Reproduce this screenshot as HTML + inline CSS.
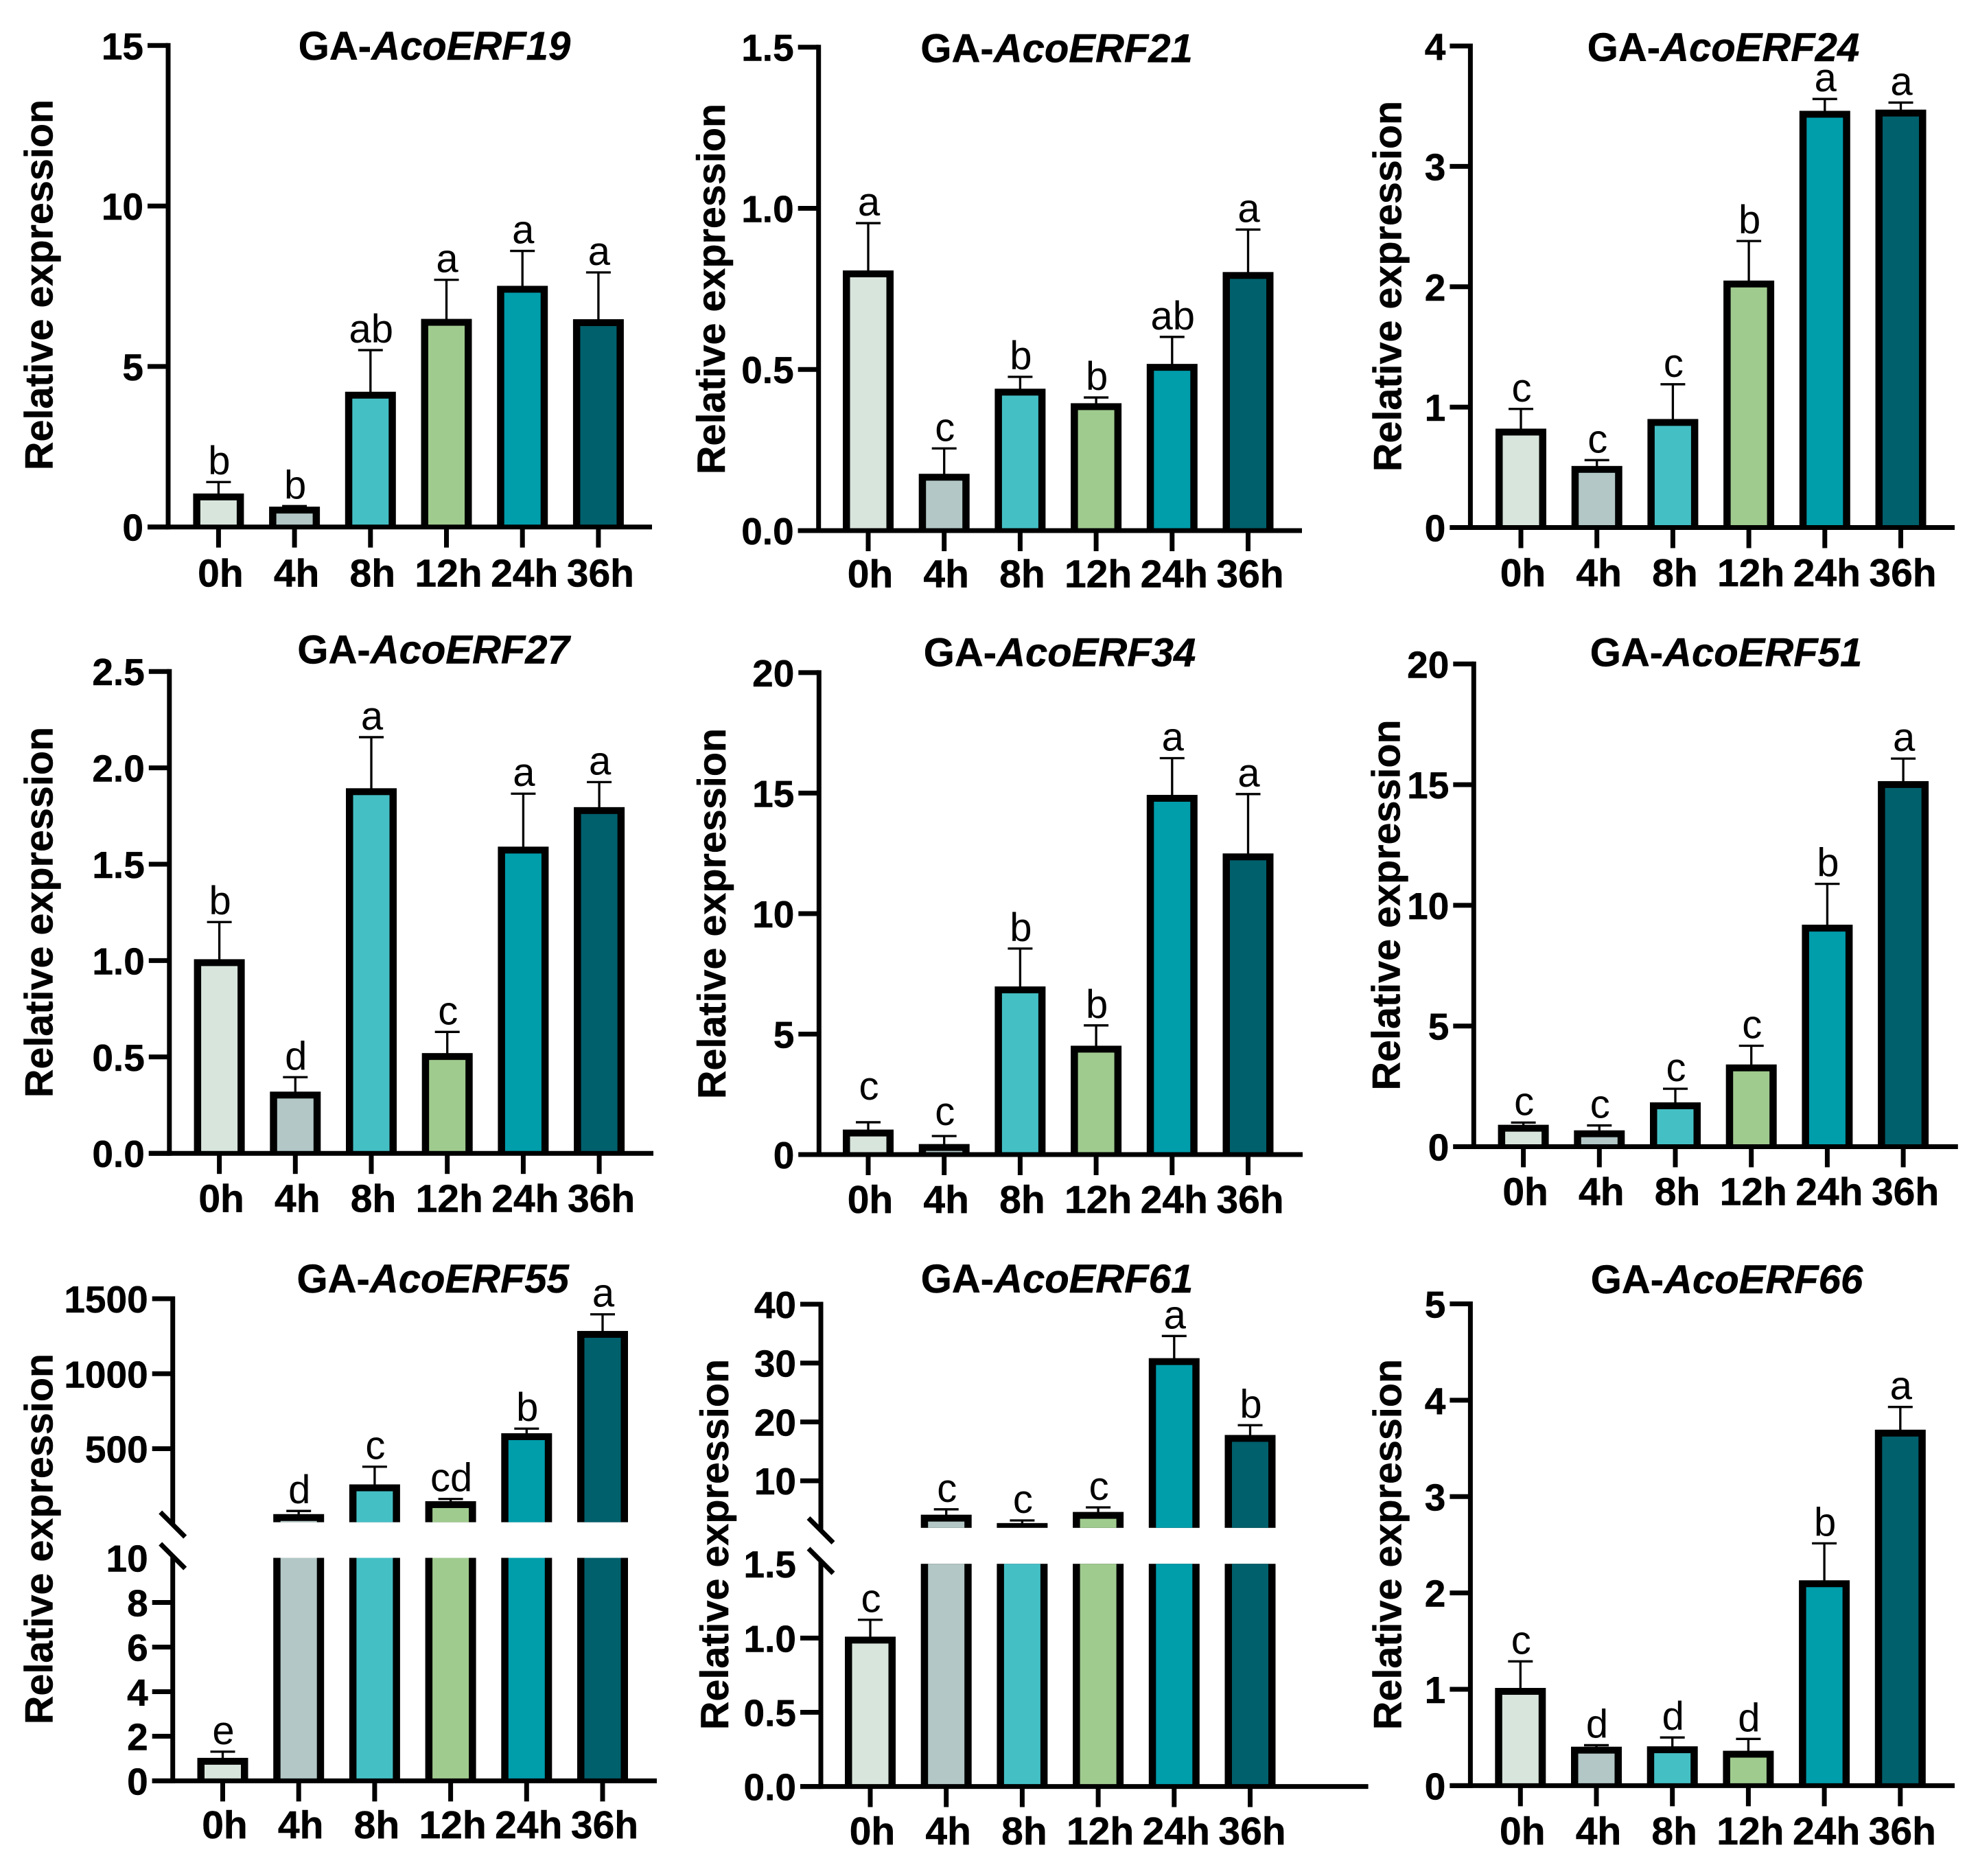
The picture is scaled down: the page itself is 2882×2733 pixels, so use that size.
<!DOCTYPE html>
<html lang="en">
<head>
<meta charset="utf-8">
<title>GA-induced relative expression of AcoERF genes</title>
<style>
html,body{margin:0;padding:0;background:#fff;}
svg{display:block;}
text{font-family:"Liberation Sans",Arial,sans-serif;fill:#000;}
.tick{font-size:55px;font-weight:700;stroke:#000;stroke-width:.5px;}
.cat{font-size:57px;font-weight:700;stroke:#000;stroke-width:.5px;}
.ttl{font-size:58px;font-weight:700;stroke:#000;stroke-width:.5px;}
.ylab{font-size:57.5px;font-weight:700;stroke:#000;stroke-width:.5px;}
.sig{font-size:58px;font-weight:400;}
</style>
</head>
<body>
<svg id="figure" xmlns="http://www.w3.org/2000/svg" width="2882" height="2733" viewBox="0 0 2882 2733"></svg>
<script>
// ---------- data ----------
const categories = ['0h', '4h', '8h', '12h', '24h', '36h'];

const erf19Means = [1.0, 0.59, 4.17, 6.44, 7.47, 6.43];
const erf19Errors = [0.40, 0.06, 1.34, 1.26, 1.13, 1.50];
const erf19Letters = ['b', 'b', 'ab', 'a', 'a', 'a'];
const erf19Ticks = ['0', '5', '10', '15'];

const erf21Means = [0.803, 0.172, 0.436, 0.391, 0.513, 0.798];
const erf21Errors = [0.151, 0.083, 0.041, 0.022, 0.088, 0.136];
const erf21Letters = ['a', 'c', 'b', 'b', 'ab', 'a'];
const erf21Ticks = ['0.0', '0.5', '1.0', '1.5'];

const erf24Means = [0.81, 0.50, 0.89, 2.04, 3.45, 3.46];
const erf24Errors = [0.175, 0.06, 0.30, 0.34, 0.11, 0.07];
const erf24Letters = ['c', 'c', 'c', 'b', 'a', 'a'];
const erf24Ticks = ['0', '1', '2', '3', '4'];

const erf27Means = [1.0, 0.313, 1.887, 0.513, 1.584, 1.789];
const erf27Errors = [0.20, 0.082, 0.272, 0.117, 0.282, 0.137];
const erf27Letters = ['b', 'd', 'a', 'c', 'a', 'a'];
const erf27Ticks = ['0.0', '0.5', '1.0', '1.5', '2.0', '2.5'];

const erf34Means = [0.98, 0.38, 6.92, 4.46, 14.87, 12.44];
const erf34Errors = [0.36, 0.39, 1.63, 0.90, 1.58, 2.52];
const erf34Letters = ['c', 'c', 'b', 'b', 'a', 'a'];
const erf34Ticks = ['0', '5', '10', '15', '20'];

const erf51Means = [0.85, 0.62, 1.78, 3.35, 9.14, 15.09];
const erf51Errors = [0.15, 0.26, 0.62, 0.83, 1.75, 0.99];
const erf51Letters = ['c', 'c', 'c', 'c', 'b', 'a'];
const erf51Ticks = ['0', '5', '10', '15', '20'];

const erf55Means = [0.97, 55, 253, 141, 594, 1276];
const erf55Errors = [0.34, 30, 127, 24, 40, 120];
const erf55Letters = ['e', 'd', 'c', 'cd', 'b', 'a'];
const erf55LowerTicks = ['0', '2', '4', '6', '8', '10'];
const erf55UpperTicks = ['500', '1000', '1500'];

const erf61Means = [1.0, 4.0, 2.58, 4.47, 30.6, 17.55];
const erf61Errors = [0.123, 1.15, 0.68, 1.01, 4.0, 1.89];
const erf61Letters = ['c', 'c', 'c', 'c', 'a', 'b'];
const erf61LowerTicks = ['0.0', '0.5', '1.0', '1.5'];
const erf61UpperTicks = ['10', '20', '30', '40'];

const erf66Means = [1.0, 0.39, 0.394, 0.348, 2.117, 3.68];
const erf66Errors = [0.29, 0.03, 0.106, 0.137, 0.398, 0.25];
const erf66Letters = ['c', 'd', 'd', 'd', 'b', 'a'];
const erf66Ticks = ['0', '1', '2', '3', '4', '5'];

// ---------- styling ----------
const barColors = ['#d8e5dc', '#b2c7c6', '#44c0c5', '#a0cb8f', '#009dab', '#00606c'];

// ---------- panel layout ----------
const panels = [
  {gene:'AcoERF19', means:erf19Means, errors:erf19Errors, letters:erf19Letters, ticks:erf19Ticks, axisX:245, y0:766.7, yTop:65.3, x0:318.4, xEnd:950, titleX:633, titleY:86, yLabX:76.5, yLabY:414, catY:853.3},
  {gene:'AcoERF21', means:erf21Means, errors:erf21Errors, letters:erf21Letters, ticks:erf21Ticks, axisX:1192.7, y0:772, yTop:67.7, x0:1265, xEnd:1897, titleX:1539.6, titleY:89.7, yLabX:1056, yLabY:420, catY:854.5},
  {gene:'AcoERF24', means:erf24Means, errors:erf24Errors, letters:erf24Letters, ticks:erf24Ticks, axisX:2142.4, y0:767.5, yTop:66, x0:2216, xEnd:2848, titleX:2511, titleY:88, yLabX:2041.4, yLabY:416, catY:853},
  {gene:'AcoERF27', means:erf27Means, errors:erf27Errors, letters:erf27Letters, ticks:erf27Ticks, axisX:246.8, y0:1679.2, yTop:977.2, x0:319.6, xEnd:952, titleX:631.6, titleY:965.3, yLabX:76.5, yLabY:1328, catY:1764.5},
  {gene:'AcoERF34', means:erf34Means, errors:erf34Errors, letters:erf34Letters, ticks:erf34Ticks, axisX:1193.3, y0:1681, yTop:978.9, x0:1265, xEnd:1898, titleX:1544, titleY:969.3, yLabX:1056.8, yLabY:1330, catY:1766, raise:[22, 5, 0, 0, 0, 0]},
  {gene:'AcoERF51', means:erf51Means, errors:erf51Errors, letters:erf51Letters, ticks:erf51Ticks, axisX:2147.3, y0:1669.5, yTop:966.3, x0:2219.6, xEnd:2852.8, titleX:2515, titleY:969.3, yLabX:2039.6, yLabY:1317.4, catY:1754.7},
  {gene:'AcoERF55', means:erf55Means, errors:erf55Errors, letters:erf55Letters, ticks:erf55LowerTicks, upperTicks:erf55UpperTicks, axisX:251.7, y0:2593.4, yTop:1891, x0:324.5, xEnd:957, titleX:630.7, titleY:1882, yLabX:76.5, yLabY:2241, catY:2677,
    lowMax:10, lowTopY:2268.5, upMin:10, upMax:1500, upBottomY:2216.6, slashU:2220, slashL:2266},
  {gene:'AcoERF61', means:erf61Means, errors:erf61Errors, letters:erf61Letters, ticks:erf61LowerTicks, upperTicks:erf61UpperTicks, axisX:1196, y0:2601.6, yTop:1899, x0:1268, xEnd:1993.6, titleX:1540, titleY:1882, yLabX:1060.8, yLabY:2249, catY:2686,
    lowMax:1.5, lowTopY:2277.2, upMin:2, upMax:40, upBottomY:2224.8, slashU:2228.5, slashL:2273},
  {gene:'AcoERF66', means:erf66Means, errors:erf66Errors, letters:erf66Letters, ticks:erf66Ticks, axisX:2142.4, y0:2600.4, yTop:1898.5, x0:2215.3, xEnd:2848, titleX:2516, titleY:1883, yLabX:2041.4, yLabY:2249, catY:2686}
];

const BAND = 110.7, BAR_W = 74, SIDE = 10.5, TOP = 10, AXIS = 7, TICK_Y = 30, TICK_X = 30, CAP = 36, ERR = 3.3, GAP = 11, LIFT = 2, PANEL_SHIFT = 1;
const NS = 'http://www.w3.org/2000/svg';
const figure = document.getElementById('figure');

function make(tag, parent) {
  const el = document.createElementNS(NS, tag);
  parent.appendChild(el);
  return el;
}
function drawLine(parent, x1, y1, x2, y2, w) {
  const el = make('line', parent);
  el.setAttribute('x1', x1);
  el.setAttribute('y1', y1);
  el.setAttribute('x2', x2);
  el.setAttribute('y2', y2);
  el.setAttribute('stroke', '#000');
  el.setAttribute('stroke-width', w);
  return el;
}
function drawRect(parent, x, y, w, h, fill) {
  const el = make('rect', parent);
  el.setAttribute('x', x);
  el.setAttribute('y', y);
  el.setAttribute('width', w);
  el.setAttribute('height', Math.max(0, h));
  el.setAttribute('fill', fill);
  return el;
}
function drawText(parent, x, y, str, cls, anchor) {
  const el = make('text', parent);
  el.setAttribute('x', x);
  el.setAttribute('y', y);
  el.setAttribute('class', cls);
  el.setAttribute('text-anchor', anchor);
  el.textContent = str;
  return el;
}

// value-to-pixel axis, piecewise when the panel has a broken axis
function yScale(p) {
  if (p.lowMax === undefined) {
    const top = Number(p.ticks[p.ticks.length - 1]);
    return v => p.y0 - v / top * (p.y0 - p.yTop);
  }
  return v => v <= p.lowMax
    ? p.y0 - v / p.lowMax * (p.y0 - p.lowTopY)
    : p.upBottomY - (v - p.upMin) / (p.upMax - p.upMin) * (p.upBottomY - p.yTop);
}
function xScale(p) {
  return i => p.x0 + i * BAND;
}

function drawBarPiece(group, x, top, bottom, color, closedTop) {
  const frame = drawRect(group, x - BAR_W / 2, top, BAR_W, bottom - top, '#000');
  
  
  const innerTop = closedTop ? top + TOP : top;
  const fill = drawRect(group, x - BAR_W / 2 + SIDE, innerTop, BAR_W - 2 * SIDE, bottom - innerTop, color);
  
  
}

function drawTickLabel(group, p, y, label, withTick) {
  if (withTick) {
    const tk = drawLine(group, p.axisX - TICK_Y, y, p.axisX, y, AXIS);
    
    
  }
  const tl = drawText(group, p.axisX - 36, y + 20, label, 'tick', 'end');
  
  
}

panels.forEach(p => {
  const g = make('g', figure);
  
  
  g.setAttribute('transform', 'translate(0 ' + PANEL_SHIFT + ')');
  const y = yScale(p);
  const x = xScale(p);
  const broken = p.lowMax !== undefined;

  // title
  const title = drawText(g, p.titleX, p.titleY, 'GA-', 'ttl', 'middle');
  
  
  const gene = make('tspan', title);
  gene.setAttribute('font-style', 'italic');
  gene.textContent = p.gene;

  // y title
  const ylab = drawText(g, 0, 0, 'Relative expression', 'ylab', 'middle');
  ylab.setAttribute('transform', 'translate(' + p.yLabX + ' ' + p.yLabY + ') rotate(-90)');
  
  

  // bars, error bars and significance letters
  p.means.forEach((m, i) => {
    const cx = x(i);
    const errV = m + p.errors[i];
    const errY = y(errV);
    const stem = drawLine(g, cx, errY, cx, y(m) + 2, ERR);
    
    
    const cap = drawLine(g, cx - CAP / 2, errY, cx + CAP / 2, errY, ERR);
    
    

    if (broken && m > p.lowMax) {
      drawBarPiece(g, cx, y(m) - LIFT, p.upBottomY, barColors[i], true);
      drawBarPiece(g, cx, p.lowTopY, p.y0, barColors[i], false);
    } else {
      drawBarPiece(g, cx, y(m) - LIFT, p.y0, barColors[i], true);
    }

    const lift = p.raise ? p.raise[i] : 0;
    const sig = drawText(g, cx + 1, errY - GAP - lift, p.letters[i], 'sig', 'middle');
    
    

    const tick = drawLine(g, cx, p.y0, cx, p.y0 + TICK_X, AXIS);
    
    
    const cat = drawText(g, cx + 3, p.catY, categories[i], 'cat', 'middle');
    
    
  });

  // axes
  const xAxis = drawLine(g, p.axisX - TICK_Y, p.y0, p.xEnd, p.y0, AXIS);
  
  

  if (broken) {
    const upper = drawLine(g, p.axisX, p.yTop - AXIS / 2, p.axisX, p.slashU, AXIS);
    
    
    const lower = drawLine(g, p.axisX, p.slashL, p.axisX, p.y0 + AXIS / 2, AXIS);
    
    
    [p.slashU, p.slashL].forEach(sy => {
      const slash = drawLine(g, p.axisX - 18, sy - 18, p.axisX + 18, sy + 18, AXIS);
      
      
    });
  } else {
    const yAxis = drawLine(g, p.axisX, p.yTop - AXIS / 2, p.axisX, p.y0 + AXIS / 2, AXIS);
    
    
  }

  // y ticks
  p.ticks.forEach(label => {
    const v = Number(label);
    drawTickLabel(g, p, y(v), label, !(broken && v === p.lowMax));
  });
  if (p.upperTicks) {
    p.upperTicks.forEach(label => {
      drawTickLabel(g, p, y(Number(label)), label, true);
    });
  }
});
</script>
</body>
</html>
